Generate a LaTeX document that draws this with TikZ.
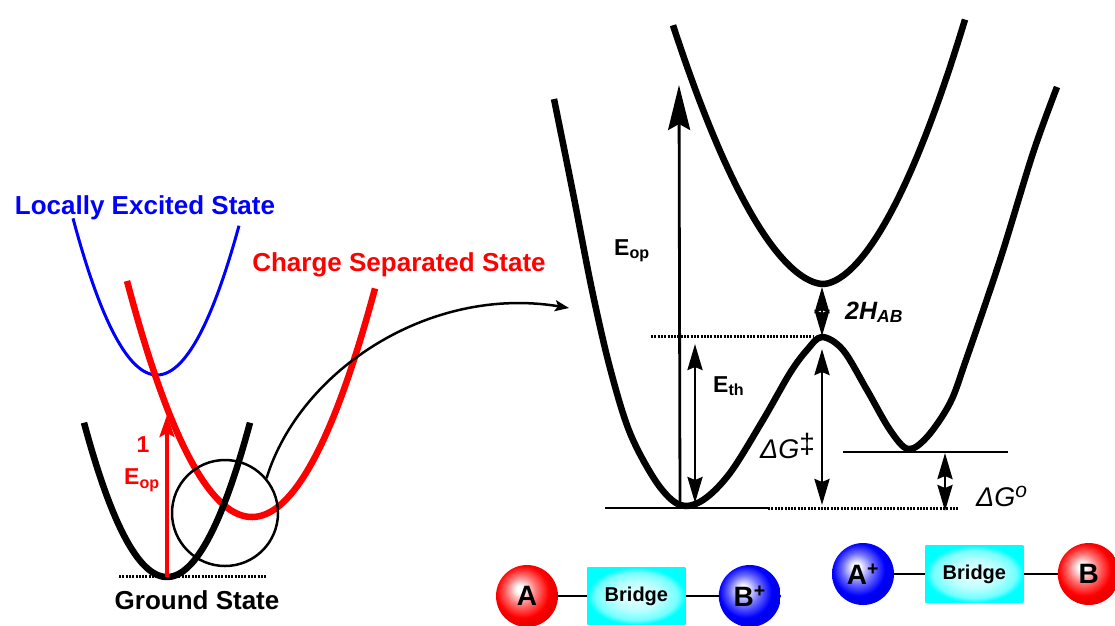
\documentclass[tikz,border=0pt]{standalone}
\usepackage{fontspec}
\setmainfont{Liberation Sans}
\usepackage{tikz}
\usetikzlibrary{positioning, arrows.meta, calc}
\pgfdeclareradialshading{redball}{\pgfpoint{-6bp}{6bp}}{color(0bp)=(white); color(3bp)=(white); color(12bp)=(red!55!white); color(21bp)=(red); color(25bp)=(red!92!black); color(50bp)=(red!92!black)}
\pgfdeclareradialshading{blueball}{\pgfpoint{-6bp}{6bp}}{color(0bp)=(white); color(3bp)=(white); color(12bp)=(blue!55!white); color(21bp)=(blue); color(25bp)=(blue!92!black); color(50bp)=(blue!92!black)}
\pgfdeclareradialshading{glow}{\pgfpoint{0bp}{0bp}}{color(0bp)=(cyan!8!white); color(12bp)=(cyan!25!white); color(21bp)=(cyan!55!white); color(25bp)=(cyan); color(50bp)=(cyan)}

\begin{document}
\begin{tikzpicture}[x=1pt, y=-1pt,
        surf/.style={line width=6.5pt, line join=round},
        lvl/.style={line width=2.8pt},
        dots/.style={line width=3pt, dash pattern=on 2pt off 1.3pt},
        bigarr/.style={line width=2.8pt, -{Stealth[length=45pt, width=22pt, inset=6pt]}},
        dbl/.style={line width=2.8pt, {Stealth[length=26pt, width=15pt, inset=3pt]}-{Stealth[length=26pt, width=15pt, inset=3pt]}},
        ball/.style={circle, minimum size=62pt, inner sep=0pt, font=\fontsize{28}{28}\selectfont\bfseries},
        bridge/.style={rectangle, minimum width=98pt, minimum height=57pt, shading=glow, font=\fontsize{20}{20}\selectfont\bfseries},
        state/.style={font=\fontsize{26}{26}\selectfont\bfseries},
        elbl/.style={font=\fontsize{23}{23}\selectfont\bfseries, inner sep=0pt},
        glbl/.style={font=\fontsize{27}{27}\selectfont\itshape, inner sep=0pt}
    ]
    \useasboundingbox (0,0) rectangle (1115,625);

    % left panel
    \draw[blue, line width=3pt] plot[domain=73:239, samples=60] (\x, {375-0.0222*(\x-157)^2});
    \draw[red, line width=6.5pt] plot[domain=127:375, samples=80] (\x, {517-0.0151*(\x-252)^2});
    \draw[line width=6.5pt] plot[domain=84:250, samples=60] (\x, {577-0.0224*(\x-167)^2});

    \coordinate (gs) at (167,577);
    \coordinate (cs) at (167,415);
    \draw[dots] (119,576) -- (266,576);
    \draw[red, line width=3.5pt, -{Stealth[length=22pt, width=15pt, inset=4pt]}] (gs) -- (cs);

    \node[state, text=blue] (les) at (145,208) {Locally Excited State};
    \node[state, text=red] (css) at (399,265) {Charge Separated State};
    \node[state] (gsl) at (197,600) {Ground State};
    \node[elbl, text=red] (one) at (143,445) {1};
    \node[elbl, text=red] (eopl) at (142,480) {E\textsubscript{op}};

    \node[draw, circle, minimum size=106pt, line width=2.5pt] (zoom) at (225,513) {};
    \coordinate (ztip) at (569,308);
    \draw[line width=2.5pt, -{Stealth[length=14pt, width=11pt, inset=3pt]}] (zoom.40) .. controls (300,370) and (430,285) .. (ztip);

    % right panel
    \draw[surf] plot[smooth, tension=0.55] coordinates {(554,99) (573,193) (592,290) (610,368) (630,433) (657,483) (680,505) (703,500) (730,473) (763,420) (790,373) (807,350) (822,337) (843,350) (867,390) (890,430) (908,449) (927,437) (950,403) (966,360) (1000,260) (1033,153) (1057,87)};
    \draw[surf] plot[domain=673:965, samples=120] (\x, {284-(\x<823 ? 0.0364 : 0.0410)*(abs(\x-823)+0.01)^1.77});

    \coordinate (lmin) at (680,506);
    \coordinate (lbar) at (822,336);
    \coordinate (umin) at (822,287);
    \coordinate (rmin) at (945,453);

    \draw[lvl] (605,508) -- (768,508);
    \draw[dots] (768,508) -- (958,508);
    \draw[dots] (651,336) -- (813,336);
    \draw[lvl] (843,452) -- (1008,452);

    \draw[bigarr] (lmin) -- (679,85);
    \draw[dbl] (695,344) -- (695,503);
    \draw[dbl] (822,349) -- (822,505);
    \draw[dbl] (umin) -- (lbar);
    \draw[dbl] (rmin) -- (945,511);

    \node[elbl, anchor=base west] (eop) at (614,255) {E\textsubscript{op}};
    \node[elbl, anchor=base west] (eth) at (713,392) {E\textsubscript{th}};
    \node[glbl, anchor=base west] (dgts) at (760,458) {ΔG\raisebox{5pt}{\upshape\fontsize{28}{28}\selectfont ‡}};
    \node[glbl, anchor=base west] (dgo) at (976,506) {ΔG\raisebox{9pt}{\fontsize{21}{21}\selectfont o}};
    \node[elbl, anchor=base west, font=\fontsize{25}{25}\selectfont\bfseries\itshape] (hab) at (845,319) {2H\textsubscript{AB}};

    % molecules
    \node[ball, shading=redball] (a1) at (527,596) {A};
    \node[bridge, right=29pt of a1] (br1) {Bridge};
    \node[ball, shading=blueball, right=33pt of br1] (b1) {B\textsuperscript{+}};
    \draw[lvl] (a1) -- (br1);
    \draw[lvl] (br1) -- (b1);

    \node[ball, shading=blueball] (a2) at (863,574) {A\textsuperscript{+}};
    \node[bridge, right=31pt of a2] (br2) {Bridge};
    \node[ball, shading=redball, right=34pt of br2] (b2) {B};
    \draw[lvl] (a2) -- (br2);
    \draw[lvl] (br2) -- (b2);

\end{tikzpicture}
\end{document}
